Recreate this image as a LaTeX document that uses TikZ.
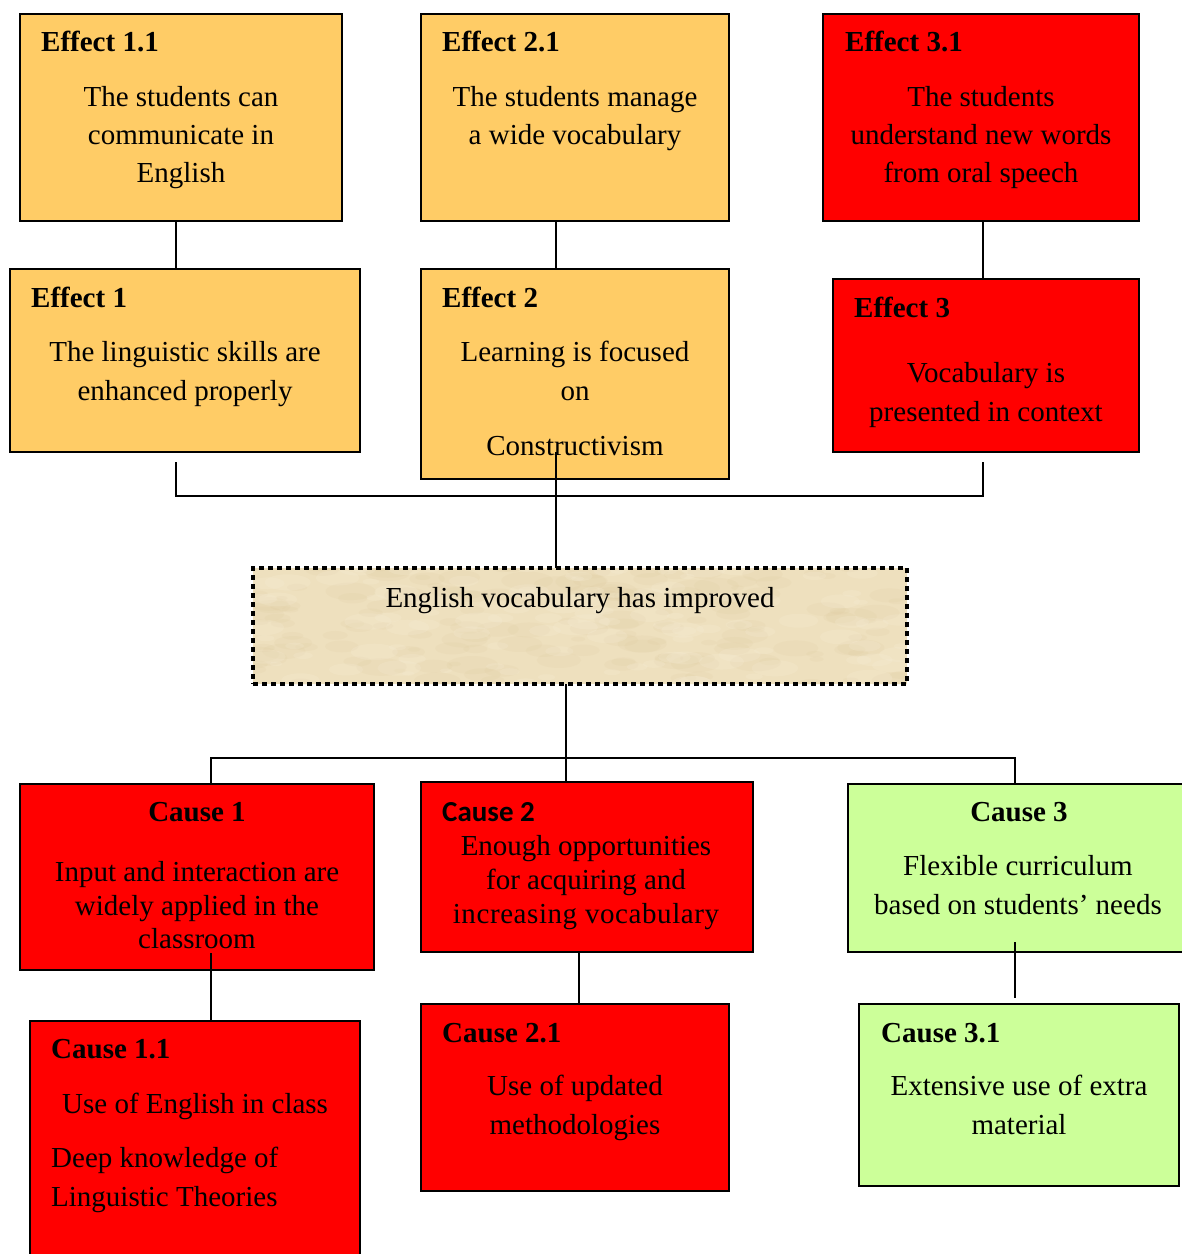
\documentclass[tikz,border=0pt]{standalone}
\usepackage{fontspec}
\setmainfont{Liberation Serif}
\newfontfamily\calibrifont{Carlito}
\usetikzlibrary{calc}

\definecolor{boxamber}{RGB}{255,204,102}
\definecolor{boxred}{RGB}{255,0,0}
\definecolor{boxgreen}{RGB}{204,255,153}
\definecolor{paper}{RGB}{238,224,190}
\definecolor{paperdark}{RGB}{212,188,138}
\definecolor{paperlight}{RGB}{250,242,222}

\begin{document}
\begin{tikzpicture}[x=1pt,y=-1pt,
  box/.style={draw=black, line width=1.8pt, anchor=north west, inner sep=0pt, outer sep=0pt},
  amber/.style={box, fill=boxamber},
  redbox/.style={box, fill=boxred},
  greenbox/.style={box, fill=boxgreen},
  ln/.style={font=\fontsize{29}{34}\selectfont, anchor=base, inner sep=0pt},
  lnw/.style={ln, anchor=base west},
  hd/.style={font=\fontsize{29}{34}\selectfont\bfseries, anchor=base west, inner sep=0pt},
  hdc/.style={hd, anchor=base},
  link/.style={line width=1.6pt}]

\useasboundingbox (0,0) rectangle (1182,1254);
\clip (0,0) rectangle (1182,1254);

% ---------- effects ----------
\node[amber, minimum width=322pt, minimum height=207pt] (e11) at (20,14) {};
\node[amber, minimum width=308pt, minimum height=207pt] (e21) at (421,14) {};
\node[redbox, minimum width=316pt, minimum height=207pt] (e31) at (823,14) {};
\node[amber, minimum width=350pt, minimum height=183pt] (e1) at (10,269) {};
\node[amber, minimum width=308pt, minimum height=210pt] (e2) at (421,269) {};
\node[redbox, minimum width=306pt, minimum height=173pt] (e3) at (833,279) {};

\node[hd] (e11h) at (41,51) {Effect 1.1};
\node[ln] (e11a) at (181,106) {The students can};
\node[ln] (e11b) at (181,144) {communicate in};
\node[ln] (e11c) at (181,182) {English};

\node[hd] (e21h) at (442,51) {Effect 2.1};
\node[ln] (e21a) at (575,106) {The students manage};
\node[ln] (e21b) at (575,144) {a wide vocabulary};

\node[hd] (e31h) at (845,51) {Effect 3.1};
\node[ln] (e31a) at (981,106) {The students};
\node[ln] (e31b) at (981,144) {understand new words};
\node[ln] (e31c) at (981,182) {from oral speech};

\node[hd] (e1h) at (31,307) {Effect 1};
\node[ln] (e1a) at (185,361) {The linguistic skills are};
\node[ln] (e1b) at (185,400) {enhanced properly};

\node[hd] (e2h) at (442,307) {Effect 2};
\node[ln] (e2a) at (575,361) {Learning is focused};
\node[ln] (e2b) at (575,400) {on};
\node[ln] (e2c) at (575,455) {Constructivism};

\node[hd] (e3h) at (854,317) {Effect 3};
\node[ln] (e3a) at (986,382) {Vocabulary is};
\node[ln] (e3b) at (986,421) {presented in context};

% effect links
\coordinate (xa) at (176,0);
\coordinate (xb) at (556,0);
\coordinate (xc) at (983,0);
\draw[link] (e11.south -| xa) -- (e1.north -| xa);
\draw[link] (e21.south -| xb) -- (e2.north -| xb);
\draw[link] (e31.south -| xc) -- (e3.north -| xc);

% bracket under the effects
\coordinate (bl) at (176,462);
\coordinate (br) at (983,462);
\coordinate (bstem) at (556,452);
\draw[link] (bl) -- (176,496) -- (983,496) -- (br);

% ---------- central problem (parchment fill) ----------
\begin{scope}
  \clip (253,568) rectangle (907,684);
  \fill[paper] (253,568) rectangle (907,684);
  \pgfmathsetseed{11}
  \foreach \i in {1,...,160} {
    \pgfmathsetmacro\px{253+654*rnd}
    \pgfmathsetmacro\py{568+116*rnd}
    \pgfmathsetmacro\pr{6+20*rnd}
    \fill[paperdark, opacity=0.09] (\px,\py) ellipse ({\pr} and {0.35*\pr});
  }
  \foreach \i in {1,...,110} {
    \pgfmathsetmacro\px{253+654*rnd}
    \pgfmathsetmacro\py{568+116*rnd}
    \pgfmathsetmacro\pr{6+18*rnd}
    \fill[paperlight, opacity=0.18] (\px,\py) ellipse ({\pr} and {0.35*\pr});
  }
\end{scope}
\node[box, draw=black, line width=4.5pt, dash pattern=on 5pt off 4pt,
      minimum width=654pt, minimum height=116pt] (core) at (253,568) {};
\node[ln] (coret) at (580,607) {English vocabulary has improved};

\draw[link] (bstem) -- (core.north -| bstem);

% ---------- causes ----------
\node[redbox, minimum width=354pt, minimum height=186pt] (c1) at (20,784) {};
\node[redbox, minimum width=332pt, minimum height=170pt] (c2) at (421,782) {};
\node[greenbox, minimum width=350pt, minimum height=168pt] (c3) at (848,784) {};
\node[redbox, minimum width=330pt, minimum height=260pt] (c11) at (30,1021) {};
\node[redbox, minimum width=308pt, minimum height=187pt] (c21) at (421,1004) {};
\node[greenbox, minimum width=320pt, minimum height=182pt] (c31) at (859,1004) {};

\node[hdc] (c1h) at (197,821) {Cause 1};
\node[ln] (c1a) at (197,881) {Input and interaction are};
\node[ln] (c1b) at (197,915) {widely applied in the};
\node[ln] (c1c) at (197,948) {classroom};

\node[hd, font=\fontsize{29}{34}\selectfont\calibrifont\bfseries] (c2h) at (442,821) {Cause 2};
\node[ln] (c2a) at (586,855) {Enough opportunities};
\node[ln] (c2b) at (586,889) {for acquiring and};
\node[ln] (c2c) at (586,923) {\addfontfeature{LetterSpace=2}increasing vocabulary};

\node[hdc] (c3h) at (1019,821) {Cause 3};
\node[ln] (c3a) at (1018,875) {Flexible curriculum};
\node[ln] (c3b) at (1018,914) {based on students’ needs};

\node[hd] (c11h) at (51,1058) {Cause 1.1};
\node[lnw] (c11a) at (62,1113) {Use of English in class};
\node[lnw] (c11b) at (51,1167) {Deep knowledge of};
\node[lnw] (c11c) at (51,1206) {Linguistic Theories};

\node[hd] (c21h) at (442,1042) {Cause 2.1};
\node[ln] (c21a) at (575,1095) {Use of updated};
\node[ln] (c21b) at (575,1134) {methodologies};

\node[hd] (c31h) at (881,1042) {Cause 3.1};
\node[ln] (c31a) at (1019,1095) {Extensive use of extra};
\node[ln] (c31b) at (1019,1134) {material};

% cause links
\coordinate (xd) at (211,0);
\coordinate (xe) at (566,0);
\coordinate (xf) at (1015,0);
\coordinate (xg) at (579,0);
\coordinate (bar) at (0,758);
\draw[link] (core.south -| xe) -- (c2.north -| xe);
\draw[link] (c1.north -| xd) -- (bar -| xd) -- (bar -| xf) -- (c3.north -| xf);
\coordinate (s1) at (211,953);
\draw[link] (s1) -- (c11.north -| s1);
\draw[link] (c2.south -| xg) -- (c21.north -| xg);
\coordinate (s3) at (1015,942);
\coordinate (t3) at (1015,998);
\draw[link] (s3) -- (t3);

\end{tikzpicture}
\end{document}
